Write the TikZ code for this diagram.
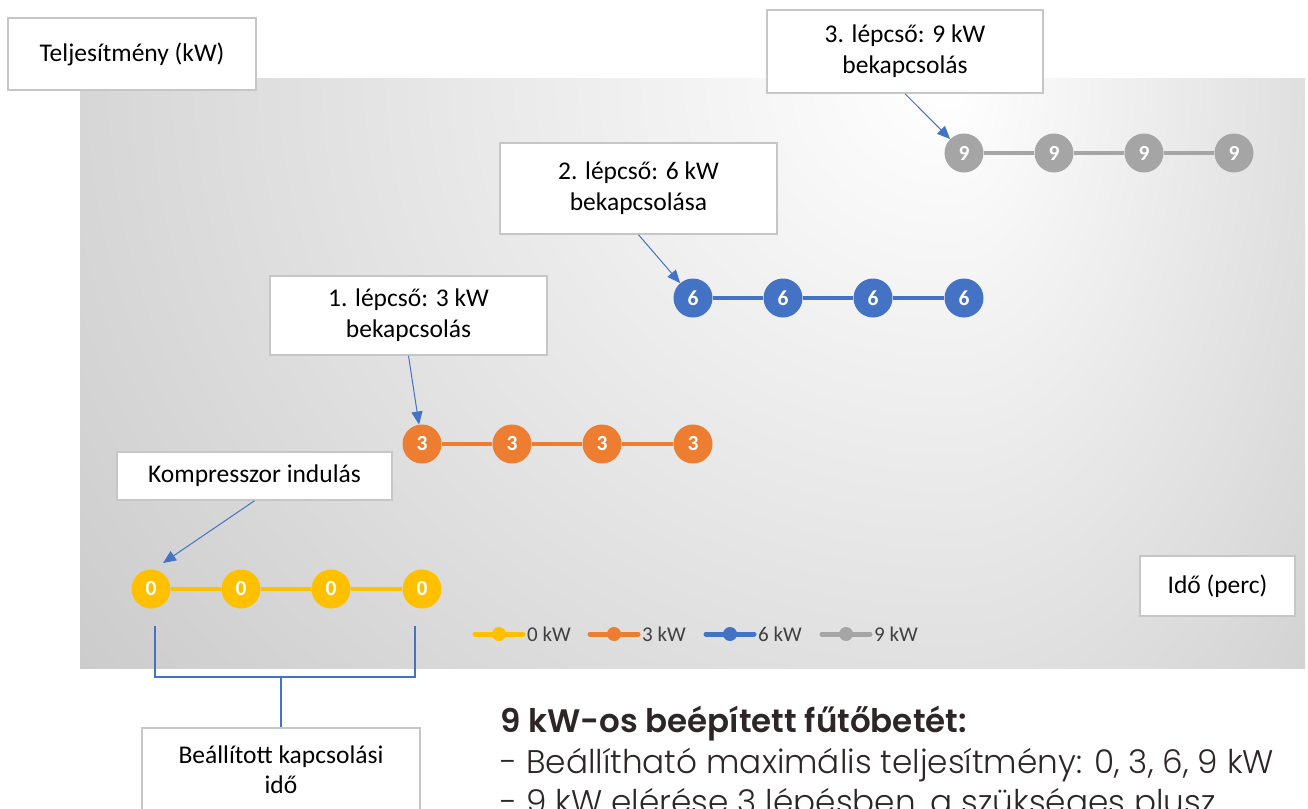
\documentclass[tikz,border=0pt]{standalone}
\usepackage{fontspec}
\setmainfont{Carlito}
\newfontfamily\popsemi{Poppins SemiBold}
\newfontfamily\poplight{Poppins Light}
\usetikzlibrary{arrows.meta,calc}
\definecolor{cyel}{HTML}{FFC000}
\definecolor{corg}{HTML}{ED7D31}
\definecolor{cblu}{HTML}{4472C4}
\definecolor{cgry}{HTML}{A5A5A5}
\definecolor{bggray}{HTML}{BBBBBB}
\definecolor{boxline}{HTML}{C6C6C6}
\definecolor{legtext}{HTML}{404040}
\definecolor{btext}{HTML}{2E2626}
\begin{document}
\begin{tikzpicture}[x=1pt,y=-1pt,
  lbox/.style={draw=boxline, line width=1.5pt, fill=white, align=center,
    font=\fontsize{25.5}{31}\selectfont, inner sep=0pt},
  dot/.style={circle, fill=#1, minimum size=39pt, inner sep=0pt, text=white,
    font=\bfseries\fontsize{21.5}{21.5}\selectfont},
  link/.style={draw=#1, line width=4.5pt},
  callout/.style={draw=cblu, line width=1pt, -{Triangle[length=13pt,width=11pt]}},
  bracket/.style={draw=cblu, line width=1.2pt},
  bottomtext/.style={anchor=west, inner sep=0pt, text=btext}
]
\useasboundingbox (0,0) rectangle (1308,808);
% background panel with gradient
\begin{scope}
  \clip (80,78) rectangle (1305,668);
  \fill[bggray] (80,78) rectangle (1305,668);
  \begin{scope}
    \clip (80,78) rectangle (950.5,668);
    \shade[inner color=white, outer color=bggray] (950,80) ellipse [x radius=1450, y radius=1300];
  \end{scope}
  \begin{scope}
    \clip (950,78) rectangle (1305,668);
    \shade[inner color=white, outer color=bggray] (950,80) ellipse [x radius=760, y radius=1300];
  \end{scope}
\end{scope}

% label boxes
\node[lbox, minimum width=248pt, minimum height=72pt] (telj) at (132,54) {Teljesítmény (kW)};
\node[lbox, minimum width=276pt, minimum height=83pt] (b3) at (905,51.5) {3. lépcső: 9 kW\\bekapcsolás};
\node[lbox, minimum width=277pt, minimum height=91pt] (b2) at (638.5,188.5) {2. lépcső: 6 kW\\bekapcsolása};
\node[lbox, minimum width=277pt, minimum height=79pt] (b1) at (408.5,315.5) {1. lépcső: 3 kW\\bekapcsolás};
\node[lbox, minimum width=275pt, minimum height=48pt] (komp) at (254.5,476) {Kompresszor indulás};
\node[lbox, minimum width=155pt, minimum height=60pt] (ido) at (1217.5,586) {Idő (perc)};
\node[lbox, minimum width=278pt, minimum height=110pt, anchor=north] (beall) at (281,727) {};
\node[align=center, font=\fontsize{25.5}{30}\selectfont, inner sep=0pt] (beallt) at (281,770) {Beállított kapcsolási\\idő};

% step circles
\foreach \i/\x in {1/151,2/241,3/331,4/422} \node[dot=cyel] (z\i) at (\x,589) {0};
\foreach \i/\x in {1/422,2/512,3/602,4/693} \node[dot=corg] (t\i) at (\x,444) {3};
\foreach \i/\x in {1/693,2/783,3/873,4/964} \node[dot=cblu] (s\i) at (\x,298) {6};
\foreach \i/\x in {1/964,2/1054,3/1144,4/1234} \node[dot=cgry] (n\i) at (\x,153) {9};
\draw[link=cyel] (z1) -- (z2) (z2) -- (z3) (z3) -- (z4);
\draw[link=corg] (t1) -- (t2) (t2) -- (t3) (t3) -- (t4);
\draw[link=cblu] (s1) -- (s2) (s2) -- (s3) (s3) -- (s4);
\draw[link=cgry] (n1) -- (n2) (n2) -- (n3) (n3) -- (n4);

% callout arrows
\coordinate (ztip) at ($(z1)+(12,-26)$);
\draw[callout] (komp.south) -- (ztip);
\draw[callout] (b1.south) -- (t1);
\draw[callout] (b2.south) -- (s1);
\draw[callout] (b3.south) -- (n1);

% bracket
\coordinate (brl) at (155,626);
\coordinate (brr) at (415,626);
\coordinate (brm) at (281,677);
\draw[bracket] (brl) |- (brm) -| (brr);
\draw[bracket] (brm) -- (beall.north);

% legend
\foreach \c/\x/\t [count=\k] in {cyel/475/0,corg/590/3,cblu/706/6,cgry/822/9} {
  \coordinate (la\k) at (\x,634);
  \coordinate (lb\k) at (\x+48,634);
  \draw[line width=5pt, draw=\c, line cap=round] (la\k) -- (lb\k);
  \node[circle, fill=\c, minimum size=14pt, inner sep=0pt] (lm\k) at (\x+24,634) {};
  \node[anchor=west, text=legtext, font=\fontsize{21}{21}\selectfont, inner sep=0pt] (lt\k) at (\x+52,634) {\t\ kW};
}

% bottom text
\node[bottomtext, font=\popsemi\fontsize{32.5}{32.5}\selectfont] (h1) at (500,724) {9 kW-os beépített fűtőbetét:};
\node[bottomtext, font=\poplight\fontsize{32.7}{32.7}\selectfont] (h2) at (500,765) {- Beállítható maximális teljesítmény: 0, 3, 6, 9 kW};
\node[bottomtext, font=\poplight\fontsize{32.7}{32.7}\selectfont] (h3) at (500,805) {- 9 kW elérése 3 lépésben, a szükséges plusz};
\end{tikzpicture}
\end{document}
